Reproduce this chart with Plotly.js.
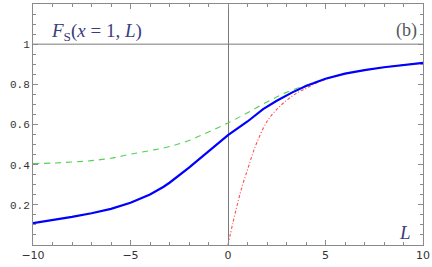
<!DOCTYPE html>
<html><head><meta charset="utf-8">
<script src="https://cdn.plot.ly/plotly-3.0.1.min.js"></script>
<style>html,body{margin:0;padding:0;background:#fff}#c{width:432px;height:267px}</style>
</head><body><div id="c"></div>
<script>
// Blue solid curve
const blueL = [-10,-9,-8,-7,-6,-5,-4,-3.3,-3,-2,-1,0,1,1.8,2.5,3.3,4,5,6,7,8,9,10];
const blueF = [0.109,0.123,0.14,0.158,0.18,0.21,0.252,0.29,0.31,0.385,0.465,0.547,0.615,0.677,0.718,0.76,0.792,0.828,0.853,0.871,0.885,0.897,0.907];
// Green dashed curve
const greenL = [-10,-9,-8,-7,-6,-5,-4,-3,-2,-1,0,1,2,3,4,5,6,7,8,9,10];
const greenF = [0.405,0.408,0.413,0.42,0.432,0.452,0.47,0.49,0.52,0.563,0.608,0.658,0.712,0.76,0.795,0.828,0.853,0.871,0.885,0.897,0.907];
// Red dash-dot curve
const redL = [0,0.25,0.5,0.75,1,1.25,1.5,2,2.5,3,3.5,4,4.5,5,6,7,8,9,10];
const redF = [0,0.11,0.21,0.30,0.375,0.45,0.515,0.615,0.675,0.72,0.755,0.78,0.805,0.825,0.852,0.870,0.884,0.896,0.906];
const xTicks = [-10,-5,0,5,10];
const yTicks = [0.2,0.4,0.6,0.8,1];
const refY = 1;

const frame = '#8a8a8a';
const traces = [
  {x: greenL, y: greenF, mode:'lines', line:{color:'#55d055', width:1.1, dash:'6px,5px', shape:'spline'}},
  {x: redL, y: redF, mode:'lines', line:{color:'#ff4d4d', width:1.1, dash:'3px,2px,1px,2px', shape:'spline'}},
  {x: blueL, y: blueF, mode:'lines', line:{color:'#0000ff', width:2.2, shape:'linear'}}
];

const axCommon = {
  showgrid:false, showline:true, linecolor:frame, linewidth:1, mirror:'allticks',
  ticks:'inside', ticklen:5, tickcolor:frame, tickwidth:1,
};
const layout = {
  width:432, height:267, margin:{l:33, r:9, t:4, b:22},
  paper_bgcolor:'#fff', plot_bgcolor:'#fff', showlegend:false,
  xaxis: Object.assign({}, axCommon, {
    range:[-10,10], tickvals:xTicks, ticktext:xTicks.map(v=>v<0?'\u2212'+Math.abs(v):String(v)),
    tickfont:{family:'DejaVu Sans', size:11, color:'#333'},
    zeroline:true, zerolinecolor:'#7a7a7a', zerolinewidth:1,
    minor:{dtick:1, ticks:'inside', ticklen:3, tickcolor:frame, showgrid:false}
  }),
  yaxis: Object.assign({}, axCommon, {
    range:[0,1.2], tickvals:yTicks, ticktext:yTicks.map(v=>String(v)),
    tickfont:{family:'Liberation Mono, DejaVu Sans Mono, monospace', size:11, color:'#333'},
    zeroline:false,
    minor:{dtick:0.05, tick0:0, ticks:'inside', ticklen:3, tickcolor:frame, showgrid:false}
  }),
  shapes:[{type:'line', xref:'paper', x0:0, x1:1, yref:'y', y0:refY, y1:refY, line:{color:'#7a7a7a', width:1}, layer:'below'}],
  annotations:[
    {xref:'paper', yref:'paper', x:0.04, y:0.885, xanchor:'left', yanchor:'middle', showarrow:false,
     text:'<i>F</i><sub>S</sub>(<i>x</i> = 1, <i>L</i>)', font:{family:'Liberation Serif', size:19, color:'#3b3b7e'}},
    {xref:'paper', yref:'paper', x:0.99, y:0.89, xanchor:'right', yanchor:'middle', showarrow:false,
     text:'(b)', font:{family:'Liberation Serif', size:18, color:'#555'}},
    {xref:'paper', yref:'paper', x:0.975, y:0.05, xanchor:'right', yanchor:'middle', showarrow:false,
     text:'<i>L</i>', font:{family:'Liberation Serif', size:19, color:'#3b3b7e'}}
  ]
};
Plotly.newPlot('c', traces, layout, {displayModeBar:false, staticPlot:true});
</script></body></html>
